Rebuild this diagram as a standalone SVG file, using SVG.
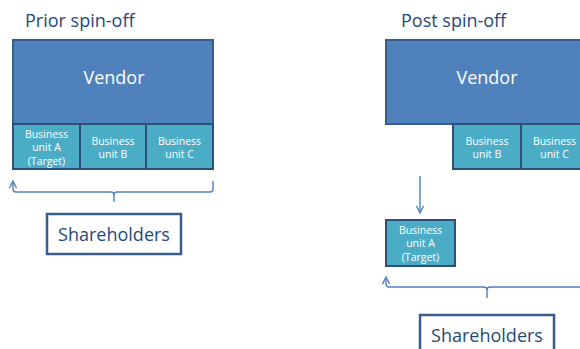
<svg xmlns="http://www.w3.org/2000/svg" width="580" height="349" viewBox="0 0 580 349">
<defs>
<style>
.title{font-family:"Open Sans","Liberation Sans",sans-serif;font-size:18px;fill:#1F497D}
.vendor{fill:#4F81BD;stroke:#385D8A;stroke-width:2}
.vtext{font-family:"Open Sans","Liberation Sans",sans-serif;font-size:18px;fill:#fff;text-anchor:middle}
.bu{fill:#4BACC6;stroke:#2C4F7C;stroke-width:2}
.butext{font-family:"Open Sans","Liberation Sans",sans-serif;font-size:10.5px;fill:#fff;text-anchor:middle}
.sh{fill:#fff;stroke:#385D8A;stroke-width:2.5}
.shtext{font-family:"Open Sans","Liberation Sans",sans-serif;font-size:18px;fill:#1F497D;text-anchor:middle}
.conn{fill:none;stroke:#4F81BD;stroke-width:1.4}
</style>
<marker id="arr" viewBox="0 0 10 10" refX="9" refY="5" markerWidth="9" markerHeight="9" markerUnits="userSpaceOnUse" orient="auto">
<path d="M1,1 L9,5 L1,9" fill="none" stroke="#4F81BD" stroke-width="1.5"/>
</marker>
</defs>
<rect width="580" height="349" fill="#fff"/>
<text class="title" x="25" y="27">Prior spin-off</text>
<text class="title" x="401" y="27">Post spin-off</text>
<g id="vendor-prior">
<rect class="vendor" x="13" y="40" width="200" height="84"/>
<text class="vtext" x="114" y="84">Vendor</text>
</g>
<g id="bu-a-prior">
<rect class="bu" x="13" y="124" width="67" height="45"/>
<text class="butext" x="46.5" y="137.5">Business</text>
<text class="butext" x="46.5" y="151">unit A</text>
<text class="butext" x="46.5" y="164.5">(Target)</text>
</g>
<g id="bu-b-prior">
<rect class="bu" x="80" y="124" width="66" height="45"/>
<text class="butext" x="113" y="144.5">Business</text>
<text class="butext" x="113" y="158">unit B</text>
</g>
<g id="bu-c-prior">
<rect class="bu" x="146" y="124" width="67" height="45"/>
<text class="butext" x="179.5" y="144.5">Business</text>
<text class="butext" x="179.5" y="158">unit C</text>
</g>
<g id="shareholders-prior">
<rect class="sh" x="47" y="214" width="134" height="40"/>
<text class="shtext" x="114" y="241">Shareholders</text>
</g>
<g id="vendor-post">
<rect class="vendor" x="386" y="40" width="200" height="84"/>
<text class="vtext" x="487" y="84">Vendor</text>
</g>
<g id="bu-b-post">
<rect class="bu" x="453" y="124" width="68" height="45"/>
<text class="butext" x="487" y="144.5">Business</text>
<text class="butext" x="487" y="158">unit B</text>
</g>
<g id="bu-c-post">
<rect class="bu" x="521" y="124" width="67" height="45"/>
<text class="butext" x="554.5" y="144.5">Business</text>
<text class="butext" x="554.5" y="158">unit C</text>
</g>
<g id="bu-a-post">
<rect class="bu" x="386" y="220" width="69" height="46"/>
<text class="butext" x="420.5" y="233.5">Business</text>
<text class="butext" x="420.5" y="247">unit A</text>
<text class="butext" x="420.5" y="260.5">(Target)</text>
</g>
<g id="shareholders-post">
<rect class="sh" x="420" y="315" width="134" height="40"/>
<text class="shtext" x="487" y="342">Shareholders</text>
</g>
<g id="connectors">
<path class="conn" d="M114,202 L114,195 Q114,192 111,192 L16,192 Q13,192 13,189 L13,181" marker-end="url(#arr)"/>
<path class="conn" d="M114,195 Q114,192 117,192 L210,192 Q213,192 213,189 L213,181"/>
<path class="conn" d="M420,176 L420,213" marker-end="url(#arr)"/>
<path class="conn" d="M487,298 L487,290 Q487,287 484,287 L389,287 Q386,287 386,284 L386,277" marker-end="url(#arr)"/>
<path class="conn" d="M487,290 Q487,287 490,287 L582,287"/>
</g>
</svg>
